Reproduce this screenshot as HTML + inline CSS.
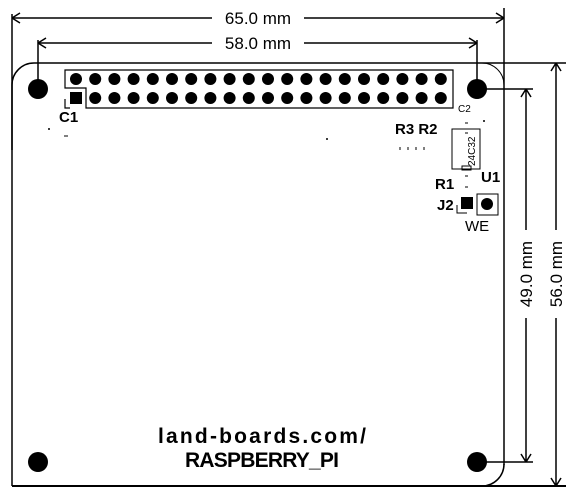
<!DOCTYPE html>
<html><head><meta charset="utf-8"><style>
html,body{margin:0;padding:0;background:#fff;}
svg{display:block;font-family:"Liberation Sans",sans-serif;}
</style></head><body>
<svg width="576" height="504" viewBox="0 0 576 504">
<g stroke="#000" stroke-width="1.5" fill="none">
  <path d="M12,486 L12,85 A22,22 0 0 1 34,63 L566,63"/>
  <path d="M12,486 L470,486 M460,486 L566,486" stroke-width="2"/>
  <path d="M482,486 A22,22 0 0 0 504,464"/>
  <path d="M504,8 L504,465"/>
  <path d="M482,63 A22,22 0 0 1 504,85" stroke-width="1"/>
</g>
<g fill="#000">
  <circle cx="38" cy="89" r="10"/><circle cx="477" cy="89" r="10"/>
  <circle cx="38" cy="462" r="10"/><circle cx="477" cy="462" r="10"/>
</g>
<g>
  <path d="M65,88 L65,70 L453,70 L453,108 L86,108 L86,88 Z M65,99 L65,108 L70,108" stroke="#000" stroke-width="1.2" fill="none"/>
  <g id="pins" fill="#000"></g>
  <rect x="70" y="92" width="12" height="12" fill="#000"/>
</g>
<g stroke="#000" stroke-width="1.5" fill="none">
  <path d="M12,18 L212,18 M304,18 L504,18 M12,14 L12,150"/>
  <path d="M12,18 l8,-5 M12,18 l8,5 M504,18 l-8,-5 M504,18 l-8,5"/>
  <path d="M38,43 L212,43 M304,43 L477,43 M38,40 L38,89 M477,40 L477,89"/>
  <path d="M38,43 l8,-5 M38,43 l8,5 M477,43 l-8,-5 M477,43 l-8,5"/>
  <path d="M556,63 L556,230 M556,318 L556,486 M556,63 l-5,8 M556,63 l5,8 M556,486 l-5,-8 M556,486 l5,-8"/>
  <path d="M477,89 L533,89 M477,462 L533,462 M526,89 L526,230 M526,318 L526,462 M526,89 l-5,8 M526,89 l5,8 M526,462 l-5,-8 M526,462 l5,-8"/>
</g>
<text x="258" y="24" font-size="17" text-anchor="middle">65.0 mm</text>
<text x="258" y="49" font-size="17" text-anchor="middle">58.0 mm</text>
<text transform="translate(532,274) rotate(-90)" font-size="17" text-anchor="middle">49.0 mm</text>
<text transform="translate(562,274) rotate(-90)" font-size="17" text-anchor="middle">56.0 mm</text>
<g font-weight="bold" font-size="15">
  <text x="59" y="122">C1</text>
  <text x="395" y="134">R3 R2</text>
  <text x="435" y="189">R1</text>
  <text x="481" y="182">U1</text>
  <text x="437" y="210">J2</text>
</g>
<text x="458" y="112" font-size="10">C2</text>
<text x="465" y="231" font-size="15">WE</text>
<g stroke="#000" stroke-width="1" fill="none">
  <rect x="452" y="129" width="28" height="40"/>
  <rect x="462" y="166" width="9" height="4"/>
  <path d="M64,136 h4 M465,123 h3 M465,133 h3 M465,176 h3 M465,187 h3 M400,147 v3 M408,147 v3 M416,147 v3 M424,147 v3 M457,205 v8 h10"/>
  <rect x="477" y="194" width="21" height="21"/>
</g>
<text transform="translate(475,166) rotate(-90)" font-size="10">24C32</text>
<rect x="461" y="197" width="12" height="12" fill="#000"/>
<circle cx="487" cy="204" r="6" fill="#000"/>
<circle cx="49" cy="129" r="1" fill="#000"/><circle cx="484" cy="121" r="1" fill="#000"/><circle cx="327" cy="139" r="1" fill="#000"/>
<text x="262" y="443" font-size="21" font-weight="bold" text-anchor="middle" textLength="208">land-boards.com/</text>
<text x="262" y="467" font-size="21" font-weight="bold" text-anchor="middle" textLength="154">RASPBERRY_PI</text>
</svg>
<script>
const pinColumns = 20;
const pinRows = [79, 98];
const g = document.getElementById('pins');
for (let r = 0; r < pinRows.length; r++) {
  for (let c = 0; c < pinColumns; c++) {
    if (r === 1 && c === 0) continue;
    const el = document.createElementNS('http://www.w3.org/2000/svg', 'circle');
    el.setAttribute('cx', 76 + c * 19.2);
    el.setAttribute('cy', pinRows[r]);
    el.setAttribute('r', 6);
    
    
    g.appendChild(el);
  }
}
</script>
</body></html>
